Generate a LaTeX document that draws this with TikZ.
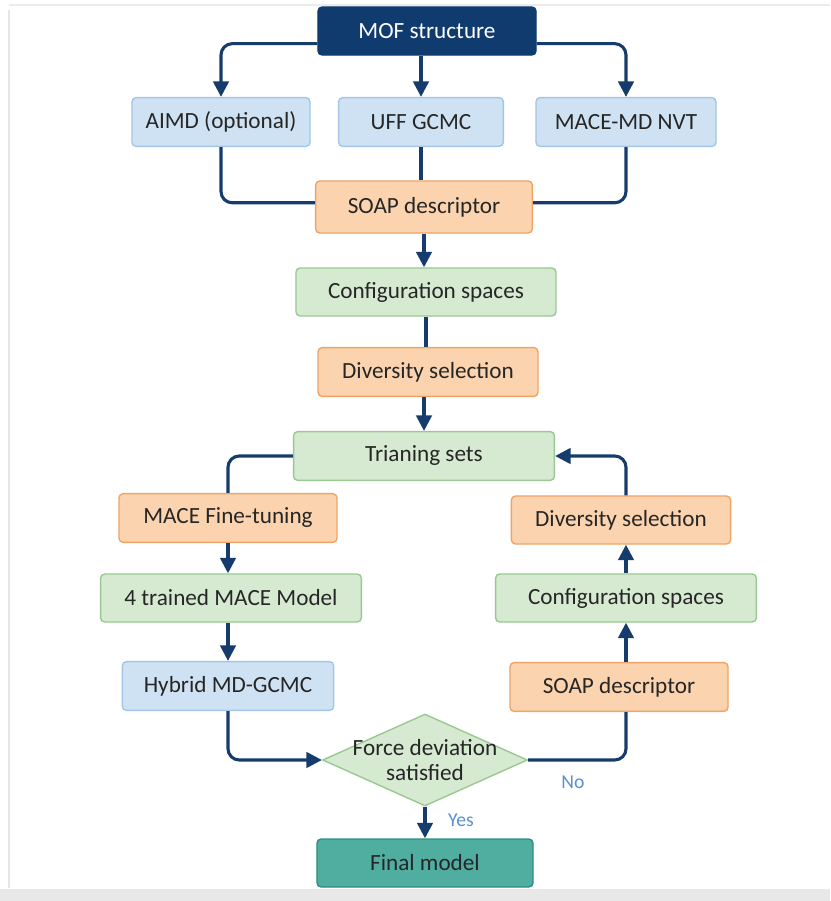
\documentclass[tikz,border=0pt]{standalone}
\usepackage{fontspec}
\setmainfont{Carlito}
\usetikzlibrary{shapes, shapes.geometric, arrows.meta, positioning}

\definecolor{navy}{HTML}{163C6E}
\definecolor{mofblue}{HTML}{0F3B6F}
\definecolor{boxblue}{HTML}{CFE2F3}
\definecolor{edgeblue}{HTML}{A3C6E6}
\definecolor{boxorange}{HTML}{FBD4AF}
\definecolor{edgeorange}{HTML}{EFA466}
\definecolor{boxgreen}{HTML}{D6EAD2}
\definecolor{edgegreen}{HTML}{99C990}
\definecolor{boxteal}{HTML}{4FAE9F}
\definecolor{edgeteal}{HTML}{2E8F80}
\definecolor{labelblue}{HTML}{5B8FD6}

\begin{document}
\begin{tikzpicture}[x=0.025cm, y=-0.025cm]
            \tikzstyle{box}=[draw, rounded corners=3pt, line width=1pt, minimum height=1.22cm, inner sep=2pt, text=black!85, font=\fontsize{16.5}{19}\selectfont]
            \tikzstyle{bluebox}=[box, fill=boxblue, draw=edgeblue]
            \tikzstyle{orangebox}=[box, fill=boxorange, draw=edgeorange]
            \tikzstyle{greenbox}=[box, fill=boxgreen, draw=edgegreen]
            \tikzstyle{topbox}=[box, fill=mofblue, draw=mofblue, text=white]
            \tikzstyle{finalbox}=[box, fill=boxteal, draw=edgeteal]
            \tikzstyle{decision}=[diamond, aspect=2.2, draw=edgegreen, fill=boxgreen, line width=1pt, inner sep=-5pt, align=center, text=black!85, font=\fontsize{16.5}{18}\selectfont]
            \tikzstyle{answer}=[text=labelblue, font=\fontsize{14}{16}\selectfont]
            \tikzstyle{flow}=[draw=navy, line width=2.2pt, rounded corners=8pt]
            \tikzstyle{flowarrow}=[flow, -{Triangle[length=11pt, width=11pt]}]

            % page and frame
            \useasboundingbox (0,0) rectangle (830,901);
            \fill[white] (0,0) rectangle (830,901);
            \fill[black!9] (0,889) rectangle (830,901);
            \draw[black!10, line width=2pt] (9,10) -- (9,888);
            \draw[black!8, line width=2pt] (9,5) -- (830,5);

            % top part
            \node[topbox, minimum width=5.45cm, minimum height=1.2cm] (mof) at (427,31) {MOF structure};
            \node[bluebox, minimum width=4.45cm] (aimd) at (221,122) {AIMD (optional)};
            \node[bluebox, minimum width=4.12cm] (uff) at (421,122) {UFF GCMC};
            \node[bluebox, minimum width=4.5cm] (macemd) at (626,122) {MACE-MD NVT};
            \node[orangebox, minimum width=5.42cm, minimum height=1.3cm] (soap) at (424,207) {SOAP descriptor};
            \node[greenbox, minimum width=6.5cm, minimum height=1.2cm] (config) at (426,292) {Configuration spaces};
            \node[orangebox, minimum width=5.5cm] (div) at (428,372) {Diversity selection};
            \node[greenbox, minimum width=6.52cm] (train) at (424,456) {Trianing sets};

            % left branch
            \node[orangebox, minimum width=5.45cm] (finetune) at (228,518) {MACE Fine-tuning};
            \node[greenbox, minimum width=6.52cm, minimum height=1.2cm] (trained) at (231,598) {4 trained MACE Model};
            \node[bluebox, minimum width=5.28cm] (hybrid) at (228,686) {Hybrid MD-GCMC};

            % decision and end
            \node[decision, minimum width=5.12cm, minimum height=2.3cm] (dev) at (425,760) {Force deviation\\satisfied};
            \node[finalbox, minimum width=5.4cm, minimum height=1.2cm] (final) at (425,863) {Final model};

            % right branch
            \node[orangebox, minimum width=5.48cm, minimum height=1.2cm] (divR) at (621,520) {Diversity selection};
            \node[greenbox, minimum width=6.52cm, minimum height=1.2cm] (configR) at (626,598) {Configuration spaces};
            \node[orangebox, minimum width=5.45cm] (soapR) at (619,687) {SOAP descriptor};

            \node[answer] (no) at (573,782) {No};
            \node[answer] (yes) at (461,820) {Yes};

            % connectors
            \draw[flowarrow] ([yshift=-9pt]mof.west) -| (aimd.north);
            \draw[flowarrow] ([yshift=-9pt]mof.east) -| (macemd.north);
            \draw[flowarrow] (mof.south -| uff.north) -- (uff.north);
            \draw[flow] (aimd.south) |- ([yshift=3pt]soap.west);
            \draw[flow] (macemd.south) |- ([yshift=3pt]soap.east);
            \draw[flow] (uff.south) -- (uff.south |- soap.north);
            \draw[flowarrow] (soap.south) -- (soap.south |- config.north);
            \draw[flow] (config.south) -- (config.south |- div.north);
            \draw[flowarrow] (div.south -| train.north) -- (train.north);
            \draw[flow] (train.west) -| (finetune.north);
            \draw[flowarrow] (finetune.south) -- (finetune.south |- trained.north);
            \draw[flowarrow] (trained.south -| hybrid.south) -- (hybrid.north);
            \draw[flowarrow] (hybrid.south) |- (dev.west);
            \draw[flow] (dev.east) -| (soapR.south -| configR.south);
            \draw[flowarrow] (soapR.north -| configR.south) -- (configR.south);
            \draw[flowarrow] (configR.north) -- (configR.north |- divR.south);
            \draw[flowarrow] (divR.north -| configR.north) |- (train.east);
            \draw[flowarrow] (dev.south) -- (final.north);
\end{tikzpicture}
\end{document}
